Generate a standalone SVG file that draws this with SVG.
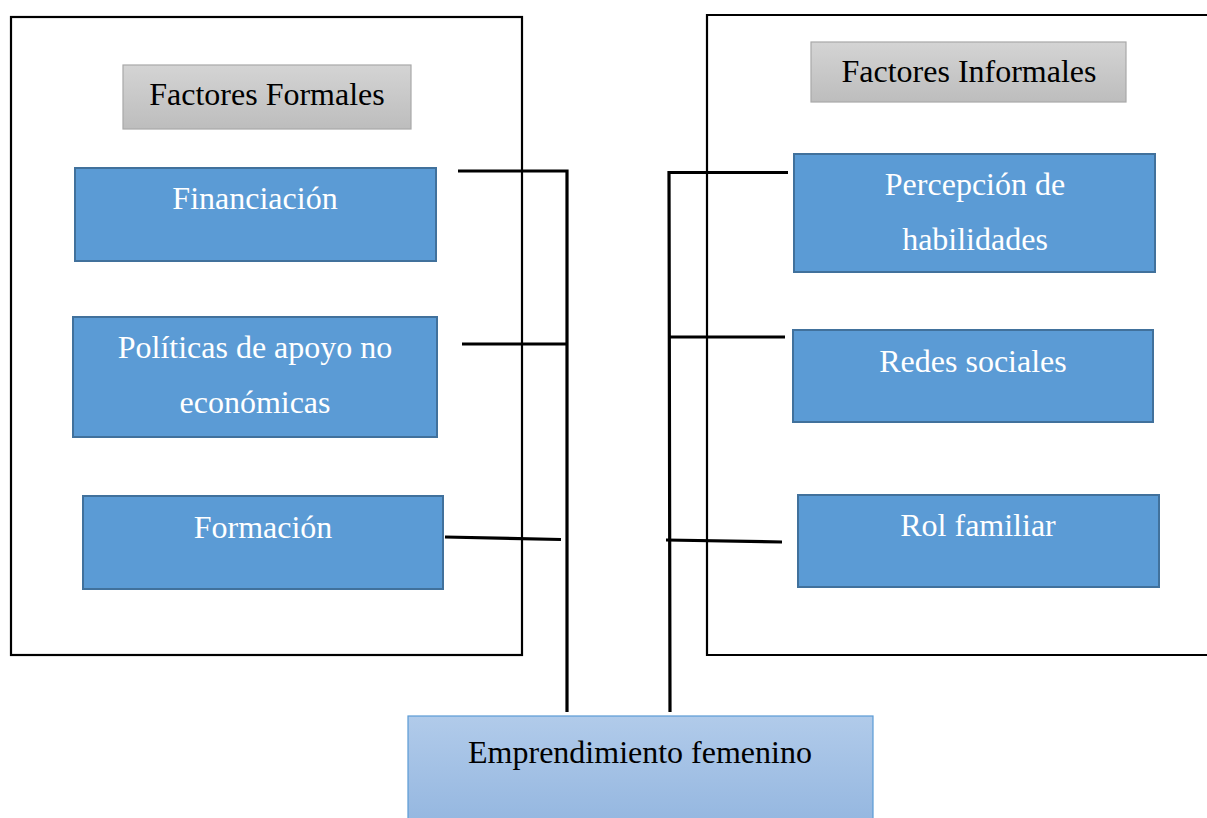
<svg xmlns="http://www.w3.org/2000/svg" width="1207" height="818" viewBox="0 0 1207 818">
<defs>
<linearGradient id="gray" x1="0" y1="0" x2="0" y2="1">
<stop offset="0" stop-color="#d4d4d4"/>
<stop offset="1" stop-color="#bdbdbd"/>
</linearGradient>
<linearGradient id="lblue" x1="0" y1="0" x2="0" y2="1">
<stop offset="0" stop-color="#b1cbea"/>
<stop offset="1" stop-color="#95b7e0"/>
</linearGradient>
</defs>
<style>
.frame{fill:none;stroke:#000;stroke-width:2.2}
.hdr{fill:url(#gray);stroke:#a8a8a8;stroke-width:1.2}
.node{fill:#5b9bd5;stroke:#41719c;stroke-width:2}
.goal{fill:url(#lblue);stroke:#5b9bd5;stroke-width:1.2}
.t{font-family:"Liberation Serif","Times New Roman",serif;font-size:32px;text-anchor:middle}
.w{fill:#fff}
.k{fill:#000}
.c{fill:none;stroke:#000;stroke-width:3.2}
</style>
<rect width="1207" height="818" fill="#fff"/>
<g id="frame-formales"><rect class="frame" x="11" y="17" width="511" height="638"/></g>
<g id="frame-informales"><path class="frame" d="M1210 15 H707 V655 H1210"/></g>
<g id="hdr-formales"><rect class="hdr" x="123" y="65" width="288" height="64"/><text class="t k" x="267" y="105">Factores Formales</text></g>
<g id="hdr-informales"><rect class="hdr" x="811" y="42" width="315" height="60"/><text class="t k" x="969" y="82">Factores Informales</text></g>
<g id="financiacion"><rect class="node" x="75" y="168" width="361" height="93"/><text class="t w" x="255" y="209">Financiación</text></g>
<g id="politicas"><rect class="node" x="73" y="317" width="364" height="120"/><text class="t w" x="255" y="358">Políticas de apoyo no</text><text class="t w" x="255" y="413">económicas</text></g>
<g id="formacion"><rect class="node" x="83" y="496" width="360" height="93"/><text class="t w" x="263" y="538">Formación</text></g>
<g id="percepcion"><rect class="node" x="794" y="154" width="361" height="118"/><text class="t w" x="975" y="195">Percepción de</text><text class="t w" x="975" y="250">habilidades</text></g>
<g id="redes"><rect class="node" x="793" y="330" width="360" height="92"/><text class="t w" x="973" y="372">Redes sociales</text></g>
<g id="rol"><rect class="node" x="798" y="495" width="361" height="92"/><text class="t w" x="978" y="536">Rol familiar</text></g>
<g id="emprendimiento"><rect class="goal" x="408" y="716" width="465" height="106"/><text class="t k" x="640" y="763">Emprendimiento femenino</text></g>
<g id="connectors">
<path class="c" d="M458 171 H567 V712"/>
<path class="c" d="M462 344 H566"/>
<path class="c" d="M445 537 L561 539.5"/>
<path class="c" d="M788 172.5 H669 L670 712"/>
<path class="c" d="M785 337 H668"/>
<path class="c" d="M666 540 L782 542"/>
</g>
</svg>
